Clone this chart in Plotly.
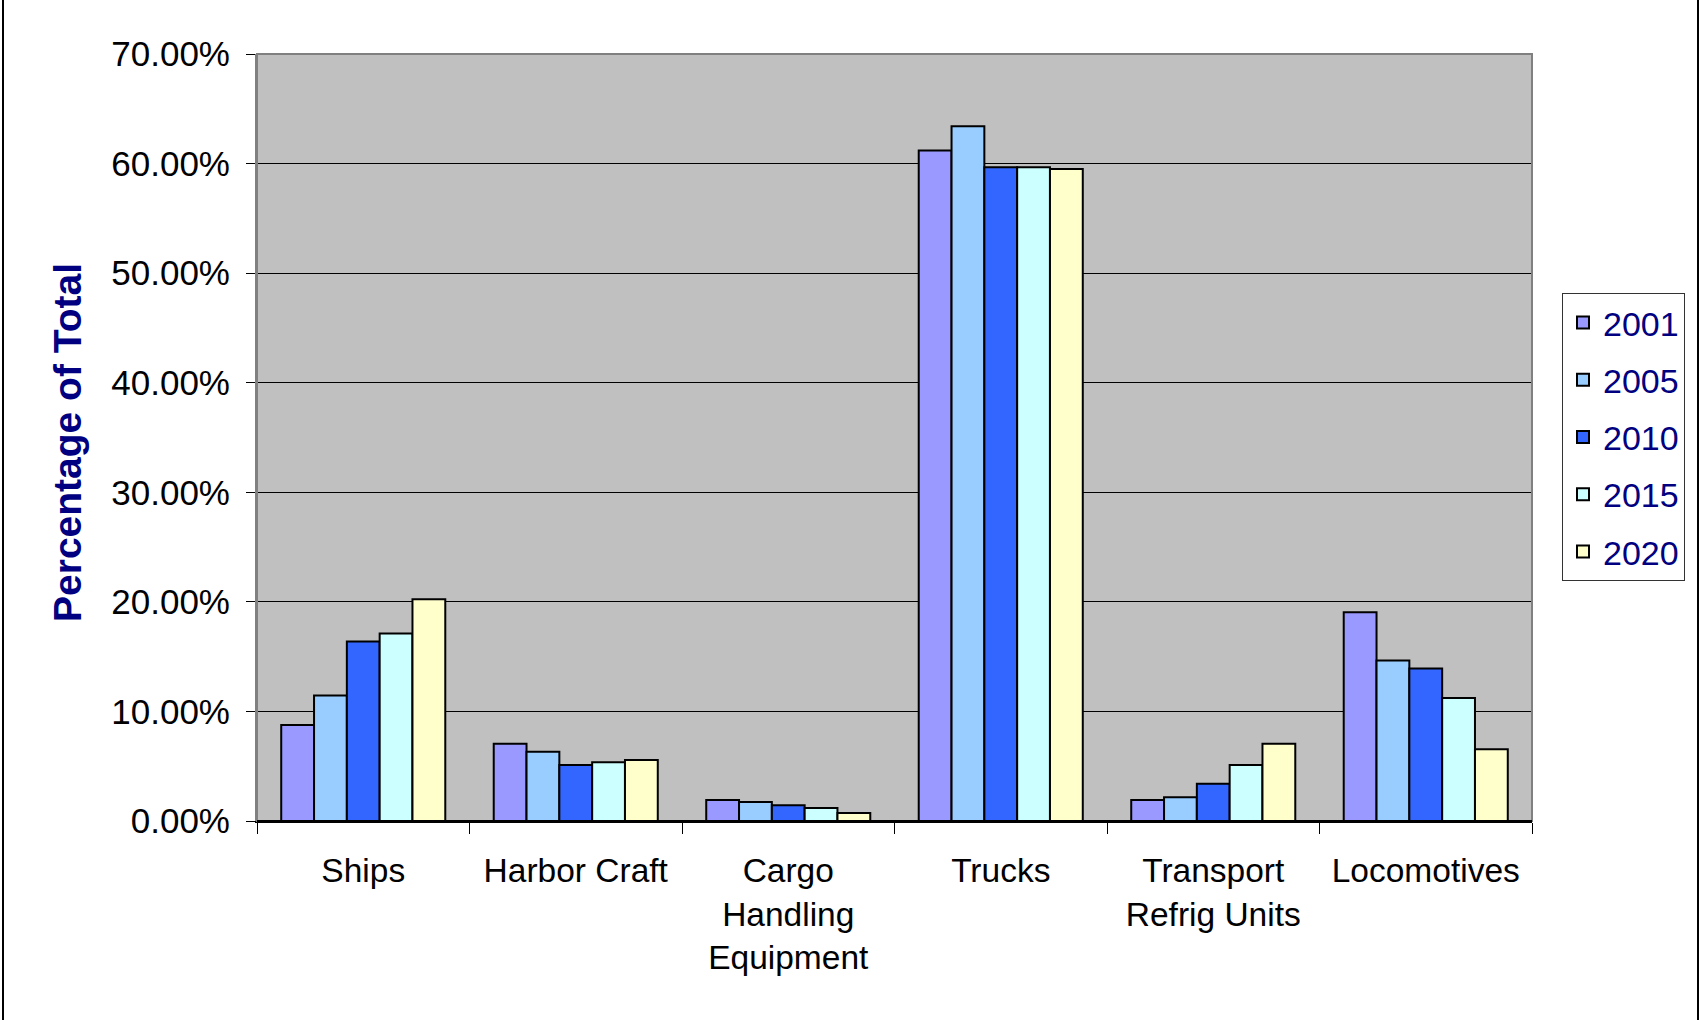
import plotly.graph_objects as go

# Share of total emissions by source category, per forecast year
categories = ["Ships", "Harbor Craft", "Cargo<br>Handling<br>Equipment", "Trucks",
              "Transport<br>Refrig Units", "Locomotives"]
years = ["2001", "2005", "2010", "2015", "2020"]

share_2001 = [0.0877, 0.0706, 0.0192, 0.6120, 0.0192, 0.1906]
share_2005 = [0.1145, 0.0633, 0.0174, 0.6340, 0.0216, 0.1464]
share_2010 = [0.1638, 0.0511, 0.0143, 0.5967, 0.0341, 0.1391]
share_2015 = [0.1711, 0.0536, 0.0119, 0.5967, 0.0511, 0.1123]
share_2020 = [0.2024, 0.0557, 0.0073, 0.5950, 0.0706, 0.0654]

series = [share_2001, share_2005, share_2010, share_2015, share_2020]
colors = ["#9999FF", "#99CCFF", "#3366FF", "#CCFFFF", "#FFFFCC"]

y_ticks = [0, 0.1, 0.2, 0.3, 0.4, 0.5, 0.6, 0.7]

FONT = "Liberation Sans, Arial, sans-serif"
NAVY = "#000080"

W, H = 1700, 1020
ML, MR, MT, MB = 257, 168, 54, 199
PW, PH = W - ML - MR, H - MT - MB


def px_x(p):
    return (p - ML) / PW


def px_y(p):
    return (H - MB - p) / PH


fig = go.Figure()
for year, vals, col in zip(years, series, colors):
    fig.add_trace(go.Bar(
        name=year, x=categories, y=vals,
        marker=dict(color=col, line=dict(color="#000000", width=2)),
        legendgroup=year,
    ))

fig.update_layout(
    width=W, height=H,
    margin=dict(l=ML, r=MR, t=MT, b=MB),
    paper_bgcolor="#FFFFFF",
    plot_bgcolor="#C0C0C0",
    barmode="group",
    bargap=0.228,
    bargroupgap=0,
    font=dict(family=FONT, size=33, color="#000000"),
    showlegend=True,
    legend=dict(
        x=px_x(1562), y=px_y(293), xanchor="left", yanchor="top",
        bgcolor="#FFFFFF", bordercolor="#333333", borderwidth=1,
        font=dict(family=FONT, size=34, color=NAVY),
        tracegroupgap=10,
        traceorder="grouped",
    ),
    xaxis=dict(
        type="category",
        showline=True, linecolor="#000000", linewidth=2,
        ticks="outside", tickson="boundaries", ticklen=11, tickcolor="#000000", tickwidth=1,
        showgrid=False,
        ticklabelstandoff=19,
        tickfont=dict(family=FONT, size=33.5, color="#000000"),
    ),
    yaxis=dict(
        range=[0, 0.7],
        tickvals=y_ticks,
        tickformat=".2%",
        showline=True, linecolor="#808080", linewidth=2,
        ticks="outside", ticklen=9, tickcolor="#000000", tickwidth=1,
        showgrid=True, gridcolor="#000000", gridwidth=1,
        zeroline=False,
        ticklabelstandoff=9,
        tickfont=dict(family=FONT, size=35, color="#000000"),
    ),
    annotations=[dict(
        text="<b>Percentage of Total</b>",
        xref="paper", yref="paper",
        x=px_x(67), y=px_y(443), xanchor="center", yanchor="middle",
        textangle=-90, showarrow=False,
        font=dict(family=FONT, size=39, color=NAVY),
    )],
    shapes=[
        # grey frame around the plotting area
        dict(type="rect", xref="paper", yref="paper", x0=0, y0=0, x1=1, y1=1,
             line=dict(color="#808080", width=2), layer="above"),
        # outer chart frame edges
        dict(type="line", xref="paper", yref="paper",
             x0=px_x(3), x1=px_x(3), y0=px_y(H), y1=px_y(0),
             line=dict(color="#000000", width=2)),
        dict(type="line", xref="paper", yref="paper",
             x0=px_x(1698), x1=px_x(1698), y0=px_y(H), y1=px_y(0),
             line=dict(color="#000000", width=2)),
        # category axis baseline
        dict(type="line", xref="paper", yref="paper", x0=0, x1=1, y0=0, y1=0,
             line=dict(color="#000000", width=2), layer="above"),
    ],
)

fig.write_html("out.html")
